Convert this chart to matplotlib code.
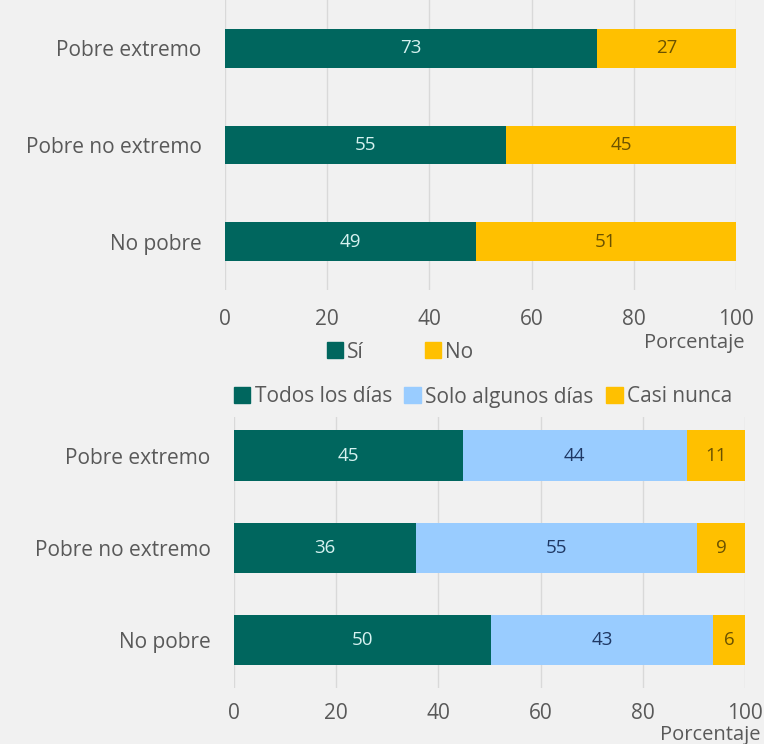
import matplotlib.pyplot as plt
from matplotlib.patches import Patch

# Data (percentages; labels show rounded values)
categorias = ['Pobre extremo', 'Pobre no extremo', 'No pobre']
si = [72.8, 55.0, 49.1]
no = [27.2, 45.0, 50.9]

todos = [44.8, 35.6, 50.3]
algunos = [43.8, 55.0, 43.4]
casi_nunca = [11.4, 9.4, 6.3]

ticks = [0, 20, 40, 60, 80, 100]

# Colours
teal = '#00665e'
amarillo = '#ffc000'
celeste = '#99ccff'
fondo = '#f1f1f1'
gris = '#595959'

plt.rcParams['font.family'] = ['Open Sans', 'DejaVu Sans']

fig = plt.figure(figsize=(7.64, 7.44), dpi=100, facecolor=fondo)


def estilo(ax, pad_y, pad_x):
    ax.set_facecolor(fondo)
    ax.set_xlim(0, 100)
    ax.set_xticks(ticks)
    ax.grid(axis='x', color='#d9d9d9', linewidth=1)
    ax.set_axisbelow(True)
    for s in ax.spines.values():
        s.set_visible(False)
    ax.tick_params(axis='both', length=0, colors=gris, labelsize=15)
    ax.tick_params(axis='y', pad=pad_y)
    ax.tick_params(axis='x', pad=pad_x)


def etiquetas(ax, bars, vals, color):
    for b, v in zip(bars, vals):
        ax.text(b.get_x() + b.get_width() / 2, b.get_y() + b.get_height() / 2,
                f'{v:.0f}', ha='center', va='center', color=color, fontsize=13.5)


# Top chart
ax1 = fig.add_axes([225 / 764, 1 - 290 / 744, 511 / 764, 290 / 744])
y = range(len(categorias))
b1 = ax1.barh(y, si, height=0.4, color=teal)
b2 = ax1.barh(y, no, left=si, height=0.4, color=amarillo)
etiquetas(ax1, b1, si, '#d6f2f0')
etiquetas(ax1, b2, no, '#6b5200')
ax1.set_yticks(list(y))
ax1.set_yticklabels(categorias)
ax1.set_ylim(2.5, -0.5)
estilo(ax1, 17, 14)

fig.text(744 / 764, 1 - 343 / 744, 'Porcentaje', ha='right', va='center',
         color=gris, fontsize=14.5)
fig.legend(handles=[Patch(color=teal, label='Sí'), Patch(color=amarillo, label='No')],
           loc='center', bbox_to_anchor=(400 / 764, 1 - 352 / 744), ncol=2,
           frameon=False, fontsize=15, handlelength=0.8, handleheight=0.8,
           handletextpad=0.2, columnspacing=2.9, labelcolor=gris)

# Bottom chart
ax2 = fig.add_axes([234 / 764, 1 - 688 / 744, 511 / 764, 271 / 744])
b3 = ax2.barh(y, todos, height=0.55, color=teal)
b4 = ax2.barh(y, algunos, left=todos, height=0.55, color=celeste)
left3 = [a + b for a, b in zip(todos, algunos)]
b5 = ax2.barh(y, casi_nunca, left=left3, height=0.55, color=amarillo)
etiquetas(ax2, b3, todos, '#d6f2f0')
etiquetas(ax2, b4, algunos, '#1f3864')
etiquetas(ax2, b5, casi_nunca, '#6b5200')
ax2.set_yticks(list(y))
ax2.set_yticklabels(categorias)
ax2.set_ylim(2.52, -0.42)
estilo(ax2, 17, 11)

fig.text(760 / 764, 1 - 735 / 744, 'Porcentaje', ha='right', va='center',
         color=gris, fontsize=14.5)
fig.legend(handles=[Patch(color=teal, label='Todos los días'),
                    Patch(color=celeste, label='Solo algunos días'),
                    Patch(color=amarillo, label='Casi nunca')],
           loc='center', bbox_to_anchor=(483 / 764, 1 - 397 / 744), ncol=3,
           frameon=False, fontsize=15, handlelength=0.8, handleheight=0.8,
           handletextpad=0.2, columnspacing=0.6, labelcolor=gris)

fig.savefig('out.png', dpi=100, facecolor=fondo)
